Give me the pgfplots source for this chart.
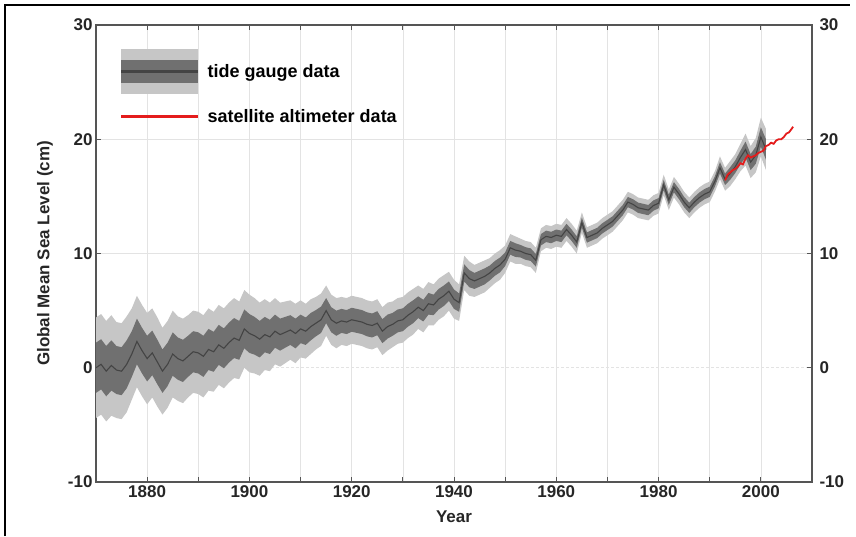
\documentclass[border=0pt]{standalone}
\usepackage{pgfplots}
\pgfplotsset{compat=1.18}
\usepackage{pgfplotstable}
\usepackage{fontspec}
\setmainfont{Liberation Sans}
\definecolor{lightband}{RGB}{198,198,198}
\definecolor{darkband}{RGB}{112,112,112}
\definecolor{centerl}{RGB}{68,68,68}
\definecolor{satred}{RGB}{228,28,28}
\definecolor{axcol}{RGB}{85,85,85}
\newcommand\fa{\fontsize{17}{20}\selectfont\bfseries}
\newcommand\fl{\fontsize{18}{21}\selectfont\bfseries}

\pgfplotstableread{
year m s
1870 0.0 2.2
1871 0.3 2.2
1872 -0.3 2.2
1873 0.2 2.2
1874 -0.2 2.1
1875 -0.3 2.1
1876 0.3 2.1
1877 1.2 2.0
1878 2.3 2.0
1879 1.5 2.0
1880 0.8 2.0
1881 1.3 1.95
1882 0.5 1.95
1883 -0.3 1.9
1884 0.3 1.9
1885 1.2 1.9
1886 0.8 1.85
1887 0.6 1.85
1888 1.0 1.8
1889 1.4 1.8
1890 1.3 1.8
1891 1.0 1.8
1892 1.6 1.8
1893 1.4 1.75
1894 2.0 1.75
1895 1.7 1.75
1896 2.2 1.75
1897 2.6 1.75
1898 2.4 1.7
1899 3.4 1.7
1900 3.0 1.7
1901 2.8 1.65
1902 2.5 1.6
1903 2.9 1.55
1904 2.7 1.5
1905 3.2 1.45
1906 2.9 1.4
1907 3.1 1.35
1908 3.3 1.3
1909 3.0 1.3
1910 3.4 1.25
1911 3.2 1.2
1912 3.6 1.2
1913 3.9 1.15
1914 4.2 1.15
1915 5.0 1.1
1916 4.2 1.1
1917 3.9 1.1
1918 4.1 1.05
1919 4.0 1.05
1920 4.2 1.05
1921 4.1 1.05
1922 4.0 1.05
1923 3.8 1.05
1924 3.7 1.05
1925 3.9 1.05
1926 3.2 1.05
1927 3.6 1.05
1928 3.8 1.0
1929 4.1 1.0
1930 4.2 1.0
1931 4.6 1.0
1932 4.9 1.0
1933 5.3 0.95
1934 5.0 0.95
1935 5.6 0.95
1936 5.5 0.9
1937 6.0 0.9
1938 6.3 0.9
1939 6.7 0.85
1940 6.0 0.85
1941 5.7 0.8
1942 8.3 0.75
1943 7.8 0.75
1944 7.6 0.7
1945 7.8 0.7
1946 8.0 0.7
1947 8.3 0.65
1948 8.7 0.65
1949 9.0 0.65
1950 9.5 0.6
1951 10.5 0.6
1952 10.3 0.6
1953 10.2 0.55
1954 10.0 0.55
1955 9.9 0.55
1956 9.4 0.55
1957 11.2 0.5
1958 11.5 0.5
1959 11.4 0.5
1960 11.6 0.5
1961 11.5 0.5
1962 12.1 0.5
1963 11.6 0.5
1964 11.0 0.5
1965 12.7 0.45
1966 11.4 0.45
1967 11.6 0.45
1968 11.8 0.45
1969 12.2 0.45
1970 12.5 0.45
1971 12.8 0.45
1972 13.3 0.45
1973 13.8 0.45
1974 14.5 0.45
1975 14.3 0.45
1976 14.0 0.45
1977 13.9 0.45
1978 13.8 0.45
1979 14.2 0.45
1980 14.4 0.45
1981 16.0 0.45
1982 14.7 0.45
1983 15.8 0.45
1984 15.2 0.45
1985 14.5 0.45
1986 14.0 0.45
1987 14.5 0.45
1988 14.9 0.45
1989 15.2 0.45
1990 15.4 0.45
1991 16.3 0.45
1992 17.5 0.5
1993 16.5 0.5
1994 17.0 0.55
1995 17.6 0.55
1996 18.4 0.6
1997 19.1 0.7
1998 18.0 0.7
1999 18.6 0.75
2000 20.2 0.85
2001 19.1 0.9
}\tide

\pgfplotstableread{
year v
1993.0 16.4
1993.5 16.9
1994.0 17.1
1994.5 17.3
1995.0 17.4
1995.5 17.6
1996.0 17.9
1996.5 17.8
1997.0 18.3
1997.5 18.6
1998.0 18.4
1998.5 18.5
1999.0 18.6
1999.5 18.8
2000.0 18.9
2000.5 19.0
2001.0 19.4
2001.5 19.5
2002.0 19.7
2002.5 19.6
2003.0 19.9
2003.5 20.0
2004.0 20.0
2004.5 20.2
2005.0 20.5
2005.5 20.6
2006.0 20.9
2006.3 21.1
}\sat

\pgfplotsset{base/.style={
  at={(96pt,54pt)}, anchor=south west,
  width=716pt, height=457pt, scale only axis,
  xmin=1870, xmax=2010, ymin=-10, ymax=30}}

\begin{document}
\begin{tikzpicture}
\useasboundingbox (0pt,0pt) rectangle (856pt,536pt);
\draw[line width=1.5pt] (5pt,0pt) -- (5pt,531pt) -- (850pt,531pt);
% axis 1: frame, grid, light (2-sigma) band, legend
\begin{axis}[base,
  xtick={1880,1900,...,2000},
  minor xtick={1890,1910,...,1990},
  ytick={-10,10,20,30},
  extra y ticks={0},
  extra y tick style={grid style={densely dashed, gray!60, line width=0.7pt}},
  grid=both,
  major grid style={gray!22, line width=0.6pt},
  minor grid style={gray!22, line width=0.6pt},
  tick align=inside,
  major tick length=5pt, minor tick length=5pt,
  ytick pos=left,
  axis line style={axcol, line width=1.2pt},
  tick style={axcol, line width=1pt},
  tick label style={font=\fa, text=black!85},
  /pgf/number format/assume math mode=true,
  /pgf/number format/1000 sep={},
  xlabel={Year}, ylabel={Global Mean Sea Level (cm)},
  label style={font=\fa, text=black!85},
  xlabel style={at={(axis description cs:0.5,-0.0766)}, anchor=center},
  ylabel style={at={(axis description cs:-0.0712,0.5)}, anchor=center},
  legend style={at={(axis description cs:0,1)}, anchor=north west,
    xshift=24pt, yshift=-24pt, draw=none, fill=none, font=\fl,
    row sep=0pt, inner sep=0pt, column sep=6pt},
  legend cell align=left,
  stack plots=y,
]
\addlegendimage{legend image code/.code={
  \fill[lightband, draw=none] (0pt,-22.5pt) rectangle (77pt,22.5pt);
  \fill[darkband, draw=none] (0pt,-11.5pt) rectangle (77pt,11.5pt);
  \fill[centerl, draw=none] (0pt,-1.5pt) rectangle (77pt,1.5pt);}}
\addlegendimage{legend image code/.code={
  \path[draw=none, fill=none] (0pt,-22.5pt) rectangle (77pt,22.5pt);
  \draw[satred, line width=2.5pt] (0pt,0pt) -- (77pt,0pt);}}
\addplot[draw=none] table[x=year, y expr=\thisrow{m}-2*\thisrow{s}] {\tide};
\addplot[draw=none, fill=lightband] table[x=year, y expr=4*\thisrow{s}] {\tide} \closedcycle;
\legend{tide gauge data, satellite altimeter data}
\end{axis}
% axis 2: dark (1-sigma) band
\begin{axis}[base, hide axis, stack plots=y]
\addplot[draw=none] table[x=year, y expr=\thisrow{m}-\thisrow{s}] {\tide};
\addplot[draw=none, fill=darkband] table[x=year, y expr=2*\thisrow{s}] {\tide} \closedcycle;
\end{axis}
% axis 3: central line, satellite data, right-hand y axis
\begin{axis}[base,
  axis y line*=right, axis x line=none,
  ytick={-10,0,...,30},
  tick align=inside, major tick length=5pt,
  axis line style={axcol, line width=1.2pt},
  tick style={axcol, line width=1pt},
  tick label style={font=\fa, text=black!85},
  /pgf/number format/assume math mode=true,
  yticklabel style={xshift=4pt},
]
\addplot[centerl, line width=1.1pt] table[x=year, y=m] {\tide};
\addplot[satred, line width=1.8pt] table[x=year, y=v] {\sat};
\end{axis}
\end{tikzpicture}
\end{document}
